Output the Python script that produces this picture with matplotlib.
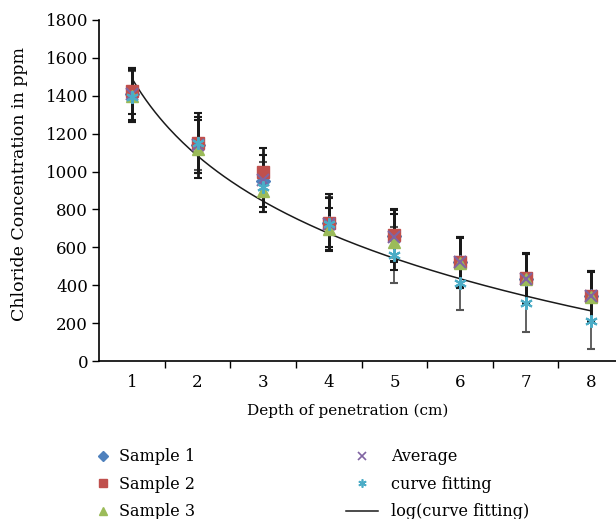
import numpy as np
import matplotlib.pyplot as plt
from matplotlib.lines import Line2D

plt.rcParams['font.family'] = ['DejaVu Serif']

############## DATA #####################
depth = np.array([1, 2, 3, 4, 5, 6, 7, 8])

sample1 = [1410, 1140, 950, 730, 660, 520, 435, 345]
sample2 = [1425, 1150, 1000, 730, 665, 522, 438, 345]
sample3 = [1400, 1120, 895, 695, 628, 518, 432, 340]
average = [1410, 1140, 955, 725, 655, 520, 435, 343]
fitting = [1395, 1150, 920, 725, 560, 410, 305, 210]

# error bars (+/-)
err1 = [137, 148, 137, 150, 137, 133, 132, 132]
err2 = [122, 159, 124, 130, 137, 133, 132, 130]
err3 = [138, 152, 110, 110, 150, 133, 132, 132]
err_fit = [135, 140, 133, 140, 148, 141, 152, 147]

############## STYLE #####################
c1 = '#4F81BD'
c2 = '#C0504D'
c3 = '#9BBB59'
c_avg = '#8064A2'
c_fit = '#4BACC6'

fig = plt.figure(figsize=(6.16, 5.19), dpi=100)
ax = fig.add_axes([0.161, 0.3044, 0.852, 0.6571])

# error bars first so markers sit on top
eb = dict(fmt='none', capsize=3, capthick=1.5, zorder=2)
ax.errorbar(depth, fitting, yerr=err_fit, ecolor='#555555', elinewidth=1.3, **eb)
ax.errorbar(depth, sample1, yerr=err1, ecolor='#1a1a1a', elinewidth=2, **eb)
ax.errorbar(depth, sample2, yerr=err2, ecolor='#1a1a1a', elinewidth=2, **eb)
ax.errorbar(depth, sample3, yerr=err3, ecolor='#1a1a1a', elinewidth=2, **eb)

# log trendline fitted to the curve-fitting series
b, a = np.polyfit(np.log(depth), fitting, 1)
xs = np.linspace(1, 8, 200)
ax.plot(xs, a + b*np.log(xs), color='#1a1a1a', lw=1.1, zorder=3)

ax.plot(depth, sample1, 'D', color=c1, ms=7, ls='none', zorder=4)
ax.plot(depth, sample2, 's', color=c2, ms=9, ls='none', zorder=5)
ax.plot(depth, sample3, '^', color=c3, ms=8, ls='none', zorder=6)
ax.plot(depth, average, 'x', color=c_avg, ms=8, mew=1.5, ls='none', zorder=7)
ax.plot(depth, fitting, marker=(6, 2, 0), color=c_fit, ms=9, mew=1.5, ls='none', zorder=8)

ax.set_xlim(0.5, 8.5)
ax.set_ylim(0, 1800)
ax.set_yticks(np.arange(0, 1801, 200))
ax.set_xticks(depth)
ax.set_xticks(np.arange(1.5, 8.5, 1), minor=True)
ax.tick_params(axis='x', which='major', length=0, labelsize=12, pad=9)
ax.tick_params(axis='x', which='minor', length=5, width=1, direction='out')
ax.tick_params(axis='y', length=5, width=1, direction='out', labelsize=12, pad=3)

for s in ['top', 'right']:
    ax.spines[s].set_visible(False)
for s in ['left', 'bottom']:
    ax.spines[s].set_linewidth(1.2)

ax.set_ylabel('Chloride Concentration in ppm', fontsize=12.5)
ax.set_xlabel('Depth of penetration (cm)', fontsize=11)
ax.xaxis.set_label_coords(0.474, -0.125)
ax.yaxis.set_label_coords(-0.135, 0.52)

#Legend, two separate columns
h_left = [
    Line2D([], [], marker='D', color=c1, ls='none', ms=5),
    Line2D([], [], marker='s', color=c2, ls='none', ms=6),
    Line2D([], [], marker='^', color=c3, ls='none', ms=6),
]
h_right = [
    Line2D([], [], marker='x', color=c_avg, ls='none', ms=6, mew=1.2),
    Line2D([], [], marker=(6, 2, 0), color=c_fit, ls='none', ms=6, mew=1.2),
    Line2D([], [], color='#1a1a1a', lw=1.1),
]
fig.legend(h_left, ['Sample 1', 'Sample 2', 'Sample 3'], loc='upper left',
           bbox_to_anchor=(95/616, 0.136), frameon=False, fontsize=11.5,
           handlelength=1.0, handletextpad=0.5, labelspacing=0.65,
           borderaxespad=0, borderpad=0)
fig.legend(h_right, ['Average', 'curve fitting', 'log(curve fitting)'], loc='upper left',
           bbox_to_anchor=(346/616, 0.136), frameon=False, fontsize=11.5,
           handlelength=2.0, handletextpad=0.8, labelspacing=0.65,
           borderaxespad=0, borderpad=0)

plt.savefig('out.png', dpi=100)
